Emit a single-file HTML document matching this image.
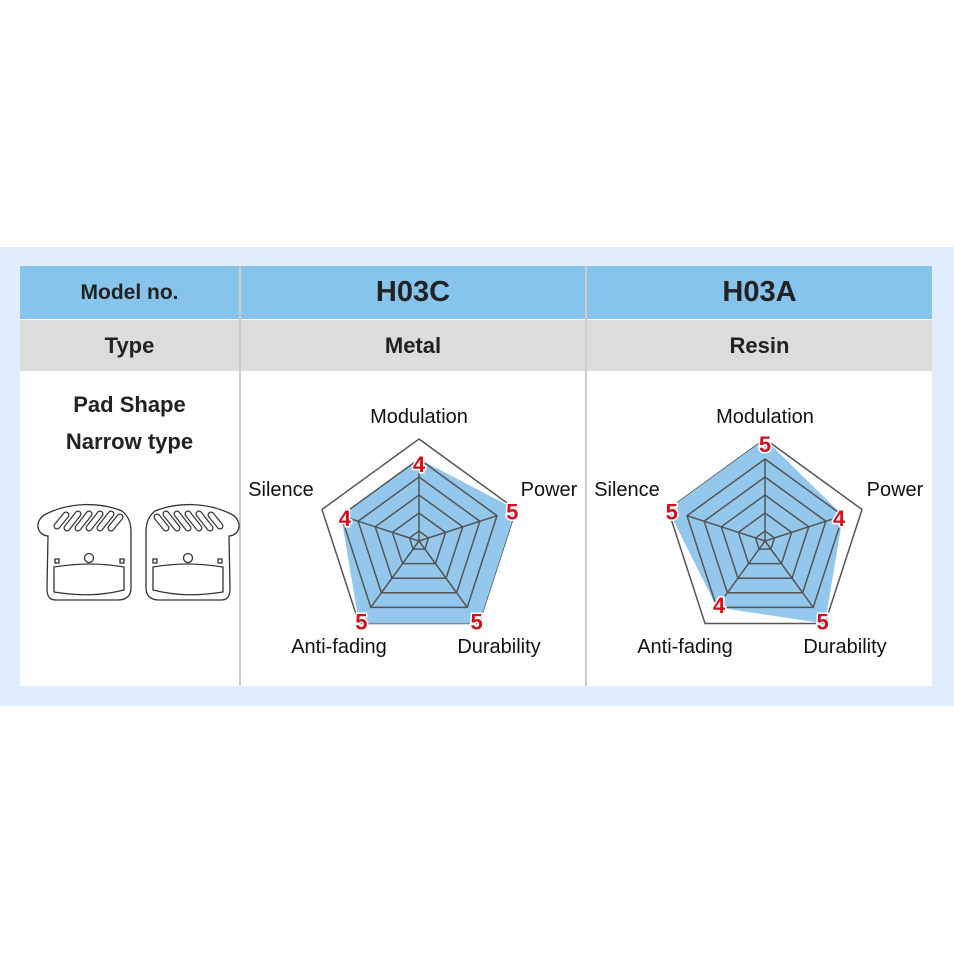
<!DOCTYPE html>
<html><head><meta charset="utf-8"><style>
body{margin:0;width:954px;height:954px;background:#fff;position:relative;font-family:"Liberation Sans","DejaVu Sans",sans-serif;overflow:hidden}
.band{position:absolute;left:0;top:247px;width:954px;height:459px;background:#dfeefa}
.t{position:absolute;left:20px;top:266px;width:912px;height:420px;background:#fff}
.c{position:absolute;display:flex;align-items:center;justify-content:center;font-weight:bold;color:#222}
</style></head><body>
<div class="band"></div>
<div class="t"></div>
<div class="c" style="left:20px;top:266px;width:219px;height:53px;background:#86c4ec;font-size:21px">Model no.</div>
<div class="c" style="left:241px;top:266px;width:344px;height:53px;background:#86c4ec;font-size:29px">H03C</div>
<div class="c" style="left:587px;top:266px;width:345px;height:53px;background:#86c4ec;font-size:29px">H03A</div>
<div class="c" style="left:20px;top:320px;width:219px;height:51px;background:#dcdcdc;font-size:22px">Type</div>
<div class="c" style="left:241px;top:320px;width:344px;height:51px;background:#dcdcdc;font-size:22px">Metal</div>
<div class="c" style="left:587px;top:320px;width:345px;height:51px;background:#dcdcdc;font-size:22px">Resin</div>
<div class="c" style="left:20px;top:388px;width:219px;height:70px;font-size:22px;line-height:37px;text-align:center;flex-direction:column">Pad Shape<br>Narrow type</div>
<svg width="954" height="954" style="position:absolute;left:0;top:0">
<line x1="240" y1="266" x2="240" y2="686" stroke="#bbb" stroke-width="1.5"/>
<line x1="586" y1="266" x2="586" y2="686" stroke="#bbb" stroke-width="1.5"/>
<g fill="none" stroke="#333" stroke-width="1.3">
<g id="pad">
<path d="M48 536 C36 535 34 520 46 514 C70 502 100 502 122 511 C128 516 131 522 131 532 L131 588 C131 596 126 600 118 600 L56 600 C49 600 47 596 47 588 Z"/>
<path d="M54 567 C80 563 100 563 124 567 L124 590 C100 596 80 596 54 592 Z"/>
<circle cx="89" cy="558" r="4.5"/><rect x="55" y="559" width="4" height="4"/><rect x="120" y="559" width="4" height="4"/>
<g stroke-linecap="round">
<path stroke="#333" stroke-width="7" d="M57 526 l9 -11 M67 528 l11 -14 M78 528 l11 -14 M89 528 l11 -14 M100 528 l11 -14 M111 528 l9 -11"/>
<path stroke="#fff" stroke-width="4.6" d="M57 526 l9 -11 M67 528 l11 -14 M78 528 l11 -14 M89 528 l11 -14 M100 528 l11 -14 M111 528 l9 -11"/>
</g>
</g>
<use href="#pad" transform="translate(277 0) scale(-1 1)"/>
</g>
</svg>
<div id="charts"></div>
<script>
function chart(cx,cy,vals,labels){
 const R=102, rings=[10,28,46,64,82];
 const ang=i=>(-90+72*i)*Math.PI/180;
 const pt=(r,i)=>[cx+r*Math.cos(ang(i)),cy+r*Math.sin(ang(i))];
 const poly=r=>[0,1,2,3,4].map(i=>pt(r,i).join(',')).join(' ');
 const rv=v=>v>=5?R:82;
 let s='';
 s+=`<polygon points="${poly(R)}" fill="#fff" stroke="#555" stroke-width="1.5"/>`;
 s+=`<polygon points="${vals.map((v,i)=>pt(rv(v),i).join(',')).join(' ')}" fill="#93c8ec" stroke="none"/>`;
 rings.forEach(r=>s+=`<polygon points="${poly(r)}" fill="none" stroke="#555" stroke-width="1.5"/>`);
 for(let i=0;i<5;i++){const p=pt(82,i);s+=`<line x1="${cx}" y1="${cy}" x2="${p[0]}" y2="${p[1]}" stroke="#555" stroke-width="1.5"/>`;}
 const lp=[[0,-118],[130,-45],[80,112],[-80,112],[-138,-45]];
 labels.forEach((l,i)=>s+=`<text x="${cx+lp[i][0]}" y="${cy+lp[i][1]}" font-size="20" text-anchor="middle" fill="#111">${l}</text>`);
 vals.forEach((v,i)=>{const p=pt(rv(v)-4,i);s+=`<text x="${p[0]}" y="${p[1]+9}" font-size="22" font-weight="bold" text-anchor="middle" fill="#d0101c" stroke="#fff" stroke-width="3" paint-order="stroke">${v}</text>`;});
 return s;
}
const L=['Modulation','Power','Durability','Anti-fading','Silence'];
document.getElementById('charts').innerHTML='<svg width="954" height="954" style="position:absolute;left:0;top:0;font-family:Liberation Sans,DejaVu Sans,sans-serif">'+chart(419,541,[4,5,5,5,4],L)+chart(765,541,[5,4,5,4,5],L)+'</svg>';
</script>
</body></html>
